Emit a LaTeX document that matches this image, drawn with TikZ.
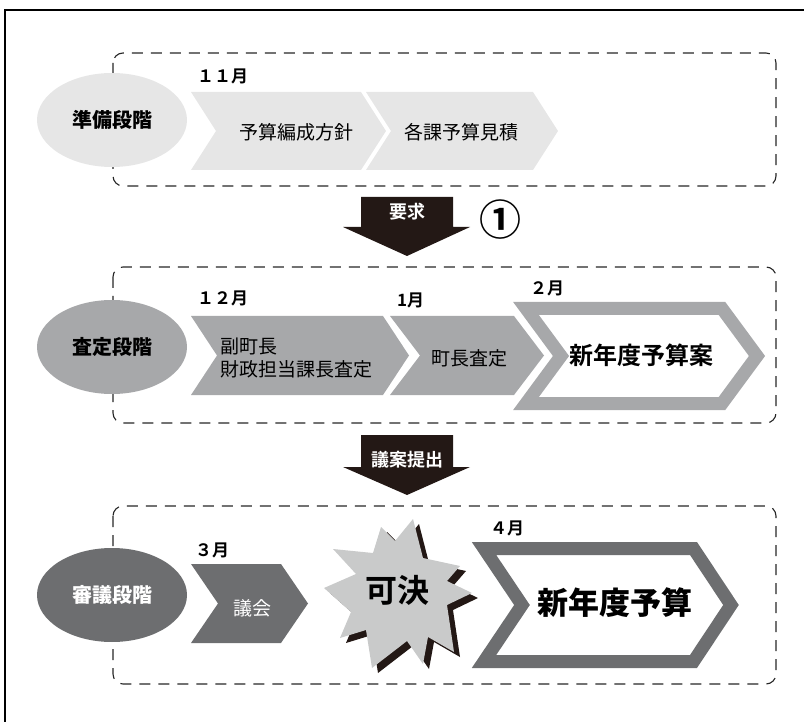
\documentclass[tikz,border=0pt]{standalone}
\usepackage{fontspec}
\setmainfont{Noto Sans CJK JP}[BoldFont={Noto Sans CJK JP Bold}]
\newfontfamily\heavyfont{Noto Sans CJK JP Black}
\usetikzlibrary{shapes.geometric}

\definecolor{lightgr}{HTML}{E6E6E6}
\definecolor{midgr}{HTML}{A7A8AA}
\definecolor{darkgr}{HTML}{6D6E70}
\definecolor{stargr}{HTML}{C9CACA}
\definecolor{inkblk}{HTML}{231815}

\newcommand{\burst}[1]{\fill[#1] (324,588) -- (356,574) -- (333,549) -- (373,553) -- (381,527) -- (395,541) -- (413,519) -- (423,558) -- (460,566) -- (447,581) -- (472,593) -- (447,605) -- (454,652) -- (428,637) -- (423,664) -- (407,641) -- (372,668) -- (366,630) -- (340,638) -- (351,612) -- cycle;}

\begin{document}
\begin{tikzpicture}[x=1pt,y=-1pt]
  \tikzset{stage/.style = {shape=ellipse,minimum width=150,minimum height=94,inner sep=0pt,font=\fontsize{20}{24}\selectfont\heavyfont}}
  \tikzset{phase/.style = {draw=black!85,line width=1.1pt,dash pattern=on 11pt off 8pt,rounded corners=10pt}}
  \tikzset{month/.style = {anchor=west,inner sep=0pt,font=\fontsize{17}{20}\selectfont\bfseries}}
  \tikzset{task/.style = {inner sep=0pt,font=\fontsize{19}{23}\selectfont}}
  \tikzset{goal/.style = {inner sep=0pt,font=\fontsize{24}{28}\selectfont\bfseries}}
  \tikzset{push/.style = {inner sep=0pt,text=white,font=\fontsize{18}{20}\selectfont\bfseries}}
  \tikzset{hollow/.style = {line width=13pt,line join=miter,fill=white}}

  \useasboundingbox (0,0) rectangle (804,722);
  \draw[line width=2.5pt,line join=miter] (5,722) -- (5,10) -- (804,10);

  \draw[phase] (113,53) rectangle (776,186);
  \draw[phase] (113,267) rectangle (776,423);
  \draw[phase] (113,506) rectangle (776,684);

  \foreach \l/\r/\t/\b/\d/\c in {191/361/92/170/25/lightgr, 366/533/92/170/25/lightgr,
      191/383/316/395/26/midgr, 390/514/316/395/30/midgr, 191/281/564/643/27/darkgr}
    \fill[\c] (\l,\t) -- (\r,\t) -- ({\r+\d},{(\t+\b)/2}) -- (\r,\b) -- (\l,\b) -- ({\l+\d},{(\t+\b)/2}) -- cycle;

  \draw[hollow,draw=midgr] (526,308.5) -- (722,308.5) -- (757,356) -- (722,403.5) -- (526,403.5) -- (561,356) -- cycle;
  \draw[hollow,draw=darkgr] (484,548.5) -- (693.5,548.5) -- (731,605) -- (693.5,661.5) -- (484,661.5) -- (522,605) -- cycle;

  % block arrows between the phases
  \foreach \ya/\yb/\yc in {197/227/256, 435/467/495}
    \fill[inkblk] (361,\ya) -- (453,\ya) -- (453,\yb) -- (470,\yb) -- (407,\yc) -- (343,\yb) -- (361,\yb) -- cycle;

  \burst{inkblk,shift={(6,5)}}
  \burst{stargr}

  \node[stage,fill=lightgr] (prep) at (112,120) {準備段階};
  \node[stage,fill=midgr] (check) at (112,347) {査定段階};
  \node[stage,fill=darkgr,text=white] (delib) at (112,595) {審議段階};

  \node[month] (nov) at (197,76) {１１月};
  \node[month] (dec) at (197,298) {１２月};
  \node[month] (jan) at (397,300) {1月};
  \node[month] (feb) at (530,288) {２月};
  \node[month] (mar) at (195,550) {３月};
  \node[month] (apr) at (490,528) {４月};

  \node[task] (policy) at (296,132) {予算編成方針};
  \node[task] (estim) at (461,132) {各課予算見積};
  \node[task,align=left,anchor=west] (vice) at (220,358) {副町長\\財政担当課長査定};
  \node[task] (mayor) at (469,358) {町長査定};
  \node[task,text=white] (council) at (252,608) {議会};
  \node[goal] (draft) at (641,355) {新年度予算案};
  \node[goal,font=\fontsize{31}{34}\selectfont\heavyfont] (budget) at (615,603) {新年度予算};
  \node[goal,font=\fontsize{32}{34}\selectfont\bfseries] (pass) at (397,590) {可決};

  \node[push] (req) at (407,212) {要求};
  \node[push] (bill) at (407,460) {議案提出};
  \node[inner sep=0pt,font=\fontsize{42}{44}\selectfont\bfseries] (one) at (500,220) {①};
\end{tikzpicture}
\end{document}
